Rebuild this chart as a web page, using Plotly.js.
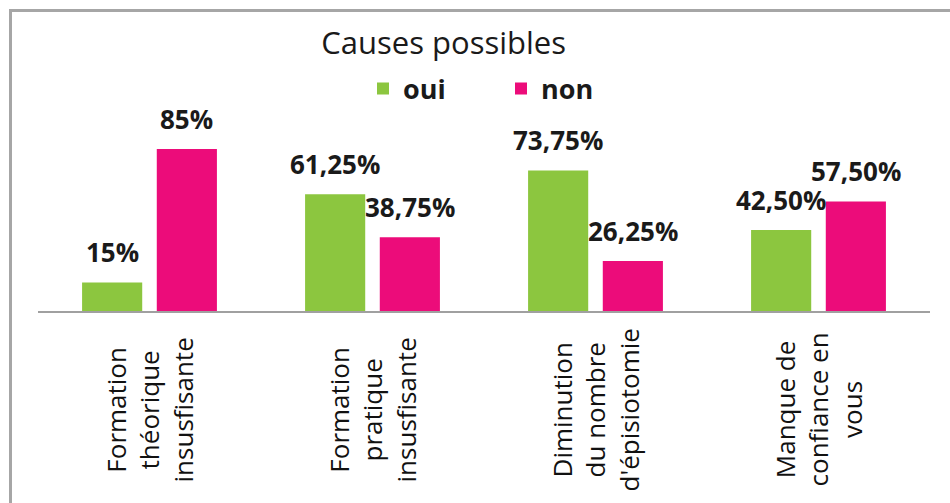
<!DOCTYPE html>
<html>
<head>
<meta charset="utf-8">
<script src="https://cdn.plot.ly/plotly-3.0.1.min.js"></script>
<style>
  html, body { margin: 0; padding: 0; background: #ffffff; }
  #chart { position: absolute; left: 0; top: 0; width: 950px; height: 503px; }
  #frame { position: absolute; left: 9px; top: 9px; width: 960px; height: 520px;
           border-left: 3px solid #a6a6a6; border-top: 3px solid #a6a6a6; pointer-events: none; }
</style>
</head>
<body>
<div id="chart"></div>
<div id="frame"></div>
<script>
const categories = [
  "Formation<br>théorique<br>insusfisante",
  "Formation<br>pratique<br>insusfisante",
  "Diminution<br>du nombre<br>d'épisiotomie",
  "Manque de<br>confiance en<br>vous"
];
const seriesNames = ["oui", "non"];
const ouiValues = [15, 61.25, 73.75, 42.5];
const nonValues = [85, 38.75, 26.25, 57.5];
const ouiLabels = ["15%", "61,25%", "73,75%", "42,50%"];
const nonLabels = ["85%", "38,75%", "26,25%", "57,50%"];
const chartTitle = "Causes possibles";

const FONT = "'Open Sans', 'DejaVu Sans', sans-serif";
const W = 950, H = 503;
const M = { l: 38, r: 20, t: 100, b: 192 };
const BARGAP = 0.33, BARGROUPGAP = 0.195;

const traces = [
  {
    type: "bar", name: seriesNames[0], x: categories, y: ouiValues,
    marker: { color: "#8cc63f" }, hoverinfo: "skip"
  },
  {
    type: "bar", name: seriesNames[1], x: categories, y: nonValues,
    marker: { color: "#ec0c7a" }, hoverinfo: "skip"
  }
];

// category labels, centred multi-line, rotated
const annotations = categories.map(c => ({
  x: c, xref: "x", y: -0.469, yref: "paper",
  text: c, textangle: -90, showarrow: false,
  xanchor: "center", yanchor: "middle", align: "center",
  font: { family: FONT, size: 26, color: "#111111" }
}));

// data labels above each bar (offset = half a bar slot within the group)
const slotShift = (W - M.l - M.r) / categories.length * (1 - BARGAP) / 4;
[[ouiValues, ouiLabels, -1], [nonValues, nonLabels, 1]].forEach(([vals, labs, side]) => {
  categories.forEach((c, i) => {
    annotations.push({
      x: c, xref: "x", y: vals[i], yref: "y",
      text: labs[i], showarrow: false,
      xanchor: "center", yanchor: "bottom",
      xshift: side * slotShift, yshift: 10,
      font: { family: FONT, size: 26, color: "#1a1a1a", weight: "bold" }
    });
  });
});

const layout = {
  width: W, height: H,
  paper_bgcolor: "#ffffff", plot_bgcolor: "#ffffff",
  margin: { l: M.l, r: M.r, t: M.t, b: M.b, pad: 0, autoexpand: false },
  title: {
    text: chartTitle, xref: "container", yref: "container",
    x: 0.467, y: 1 - 43 / H, xanchor: "center", yanchor: "middle",
    font: { family: FONT, size: 31, color: "#1a1a1a" },
    automargin: false
  },
  barmode: "group", bargap: BARGAP, bargroupgap: BARGROUPGAP,
  showlegend: true,
  legend: {
    orientation: "h", xref: "container", yref: "container",
    x: 363 / W, y: 1 - 89 / H, xanchor: "left", yanchor: "middle",
    font: { family: FONT, size: 27, color: "#1a1a1a", weight: "bold" },
    entrywidth: 93, entrywidthmode: "pixels",
    bgcolor: "rgba(0,0,0,0)", itemclick: false, itemdoubleclick: false
  },
  xaxis: {
    type: "category", showticklabels: false, ticks: "",
    showline: true, linecolor: "#a0a0a0", linewidth: 1.5,
    showgrid: false, zeroline: false, fixedrange: true
  },
  yaxis: {
    range: [0, 110.7], visible: false, showgrid: false, zeroline: false, fixedrange: true
  },
  annotations: annotations,
  font: { family: FONT }
};

Plotly.newPlot("chart", traces, layout, { displayModeBar: false, staticPlot: true });
</script>
</body>
</html>
